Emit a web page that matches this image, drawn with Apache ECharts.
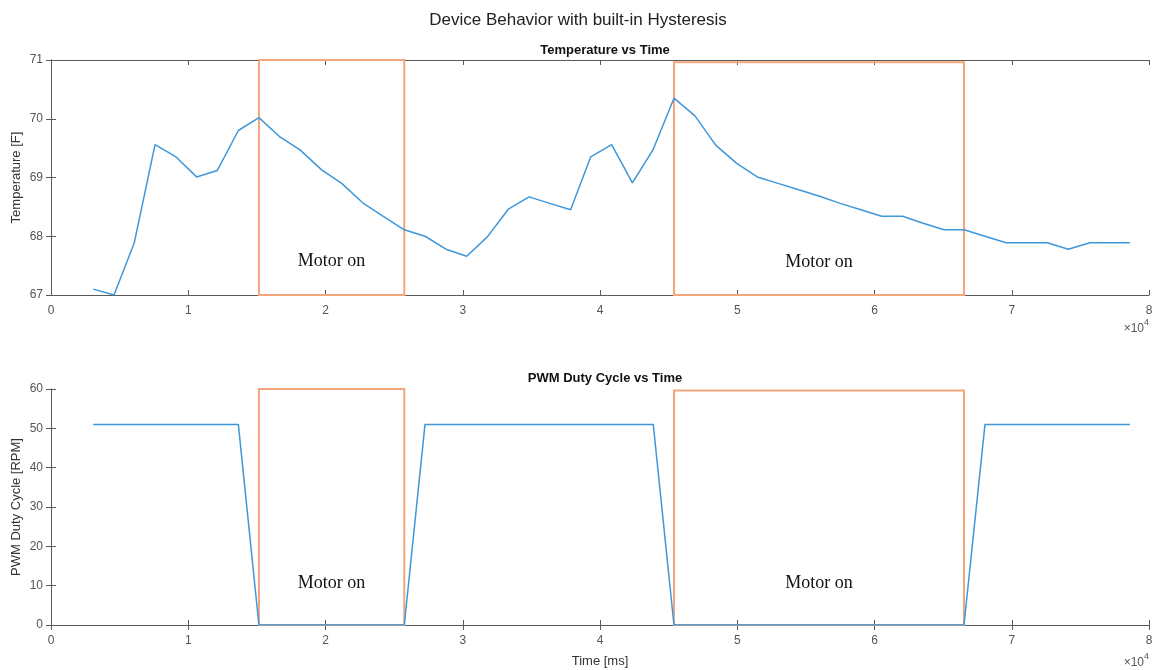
<!DOCTYPE html>
<html>
<head>
<meta charset="utf-8">
<title>Device Behavior with built-in Hysteresis</title>
<script src="https://cdn.jsdelivr.net/npm/echarts@6/dist/echarts.min.js"></script>
<style>
  html, body { margin: 0; padding: 0; background: #fff; }
  #main { width: 1156px; height: 670px; }
</style>
</head>
<body>
<div id="main"></div>
<script>
// sample times [ms]
const times = [
  3080, 4590, 6070, 7580, 9110, 10610, 12120, 13650, 15150, 16680,
  18140, 19720, 21180, 22710, 24210, 25740, 27250, 28780, 30290, 31790,
  33320, 34830, 36340, 37860, 39320, 40850, 42360, 43880, 45390, 46920,
  48430, 49960, 51460, 52970, 54480, 56000, 57500, 59010, 60520, 62050,
  63550, 65060, 66520, 68050, 69580, 71080, 72590, 74120, 75700, 77200,
  78610
];
// temperature [F]
const temperature = [
  67.10, 67.00, 67.89, 69.56, 69.35, 69.01, 69.12, 69.80, 70.02, 69.69,
  69.47, 69.13, 68.90, 68.57, 68.34, 68.11, 68.00, 67.78, 67.66, 67.99,
  68.46, 68.67, 68.56, 68.45, 69.35, 69.56, 68.91, 69.48, 70.35, 70.05,
  69.55, 69.24, 69.01, 68.90, 68.79, 68.68, 68.56, 68.45, 68.34, 68.34,
  68.22, 68.11, 68.11, 68.00, 67.89, 67.89, 67.89, 67.78, 67.89, 67.89,
  67.89
];
// PWM duty cycle
const pwm = [
  51, 51, 51, 51, 51, 51, 51, 51, 0, 0,
  0, 0, 0, 0, 0, 0, 51, 51, 51, 51,
  51, 51, 51, 51, 51, 51, 51, 51, 0, 0,
  0, 0, 0, 0, 0, 0, 0, 0, 0, 0,
  0, 0, 0, 51, 51, 51, 51, 51, 51, 51,
  51
];
// motor on intervals [start ms, end ms]
const motorOn = [[15150, 25740], [45390, 66520]];
const tempTop = [71, 70.96];
const pwmTop = [60, 59.6];
const tempTicks = [67, 71, 1];
const pwmTicks = [0, 60, 10];
const timeTicks = [0, 80000, 10000];

const myChart = echarts.init(document.getElementById("main"));

const lineColor = "#3f97d8";
const boxColor = "#f3a57c";
const axisColor = "#5a5a5a";
const font = "Liberation Sans, Arial, sans-serif";

function pairs(ys) {
  return times.map((t, i) => [t, ys[i]]);
}

function areas(tops, bottom) {
  return motorOn.map((m, i) => [
    { coord: [m[0], tops[i]] },
    { coord: [m[1], bottom] },
  ]);
}

function xAxes(grid) {
  return [
    {
      type: "value",
      gridIndex: grid,
      min: timeTicks[0],
      max: timeTicks[1],
      interval: timeTicks[2],
      position: "bottom",
      axisLine: { show: true, lineStyle: { color: axisColor } },
      axisTick: { show: true, inside: true, length: 5, lineStyle: { color: axisColor } },
      axisLabel: {
        color: "#555",
        fontSize: 12,
        fontFamily: font,
        margin: 10,
        formatter: (v) => v / 10000,
      },
      splitLine: { show: false },
      name: grid === 1 ? "Time [ms]" : "",
      nameLocation: "middle",
      nameGap: 30,
      nameMoveOverlap: false,
      nameTextStyle: { color: "#333", fontSize: 13, fontFamily: font },
    },
    {
      type: "value",
      gridIndex: grid,
      min: timeTicks[0],
      max: timeTicks[1],
      interval: timeTicks[2],
      position: "top",
      axisLine: { show: true, lineStyle: { color: axisColor } },
      axisTick: { show: true, inside: true, length: 5, lineStyle: { color: axisColor } },
      axisLabel: { show: false },
      splitLine: { show: false },
    },
  ];
}

function yAxes(grid, ticks, name) {
  return [
    {
      type: "value",
      gridIndex: grid,
      min: ticks[0],
      max: ticks[1],
      interval: ticks[2],
      position: "left",
      axisLine: { show: true, lineStyle: { color: axisColor } },
      axisTick: { show: true, inside: true, length: 5, lineStyle: { color: axisColor } },
      axisLabel: { color: "#555", fontSize: 12, fontFamily: font, margin: 8 },
      splitLine: { show: false },
      name: name,
      nameLocation: "middle",
      nameGap: 28,
      nameMoveOverlap: false,
      nameTextStyle: { color: "#333", fontSize: 13, fontFamily: font },
    },
    {
      type: "value",
      gridIndex: grid,
      min: ticks[0],
      max: ticks[1],
      interval: ticks[2],
      position: "right",
      axisLine: { show: true, lineStyle: { color: axisColor } },
      axisTick: { show: true, inside: true, length: 5, lineStyle: { color: axisColor } },
      axisLabel: { show: false },
      splitLine: { show: false },
    },
  ];
}

const motorLabel = {
  show: true,
  formatter: "Motor on",
  color: "#111",
  fontSize: 18,
  fontFamily: "Liberation Serif, Times New Roman, serif",
  align: "center",
  verticalAlign: "middle",
};

function exponent(top) {
  return {
    type: "text",
    right: 7,
    top: top,
    style: {
      text: "{a|×10}{b|4}",
      rich: {
        a: { fontSize: 12, fontFamily: font, fill: "#555", padding: [5, 0, 0, 0] },
        b: { fontSize: 9, fontFamily: font, fill: "#555", verticalAlign: "top" },
      },
    },
  };
}

myChart.setOption({
  animation: false,
  title: [
    {
      text: "Device Behavior with built-in Hysteresis",
      left: "center",
      top: 7,
      textStyle: { color: "#222", fontSize: 17, fontWeight: "normal", fontFamily: font },
    },
    {
      text: "Temperature vs Time",
      left: 600,
      textAlign: "center",
      top: 39,
      textStyle: { color: "#111", fontSize: 13, fontWeight: "bold", fontFamily: font },
    },
    {
      text: "PWM Duty Cycle vs Time",
      left: 600,
      textAlign: "center",
      top: 367,
      textStyle: { color: "#111", fontSize: 13, fontWeight: "bold", fontFamily: font },
    },
  ],
  grid: [
    { left: 51, right: 7, top: 60, height: 235 },
    { left: 51, right: 7, top: 389, height: 236 },
  ],
  xAxis: [...xAxes(0), ...xAxes(1)],
  yAxis: [
    ...yAxes(0, tempTicks, "Temperature [F]"),
    ...yAxes(1, pwmTicks, "PWM Duty Cycle [RPM]"),
  ],
  graphic: [exponent(318), exponent(652)],
  series: [
    {
      name: "Temperature",
      type: "line",
      xAxisIndex: 0,
      yAxisIndex: 0,
      data: pairs(temperature),
      showSymbol: false,
      lineStyle: { color: lineColor, width: 1.5 },
      itemStyle: { color: lineColor },
      z: 3,
      markArea: {
        silent: true,
        itemStyle: { color: "rgba(0,0,0,0)", borderColor: boxColor, borderWidth: 2 },
        label: { ...motorLabel, position: ["50%", "85.5%"] },
        data: areas(tempTop, tempTicks[0]),
      },
    },
    {
      name: "PWM",
      type: "line",
      xAxisIndex: 2,
      yAxisIndex: 2,
      data: pairs(pwm),
      showSymbol: false,
      lineStyle: { color: lineColor, width: 1.5 },
      itemStyle: { color: lineColor },
      z: 3,
      markArea: {
        silent: true,
        itemStyle: { color: "rgba(0,0,0,0)", borderColor: boxColor, borderWidth: 2 },
        label: { ...motorLabel, position: ["50%", "82%"] },
        data: areas(pwmTop, pwmTicks[0]),
      },
    },
  ],
});

window.addEventListener("resize", function () {
  myChart.resize();
});
</script>
</body>
</html>
